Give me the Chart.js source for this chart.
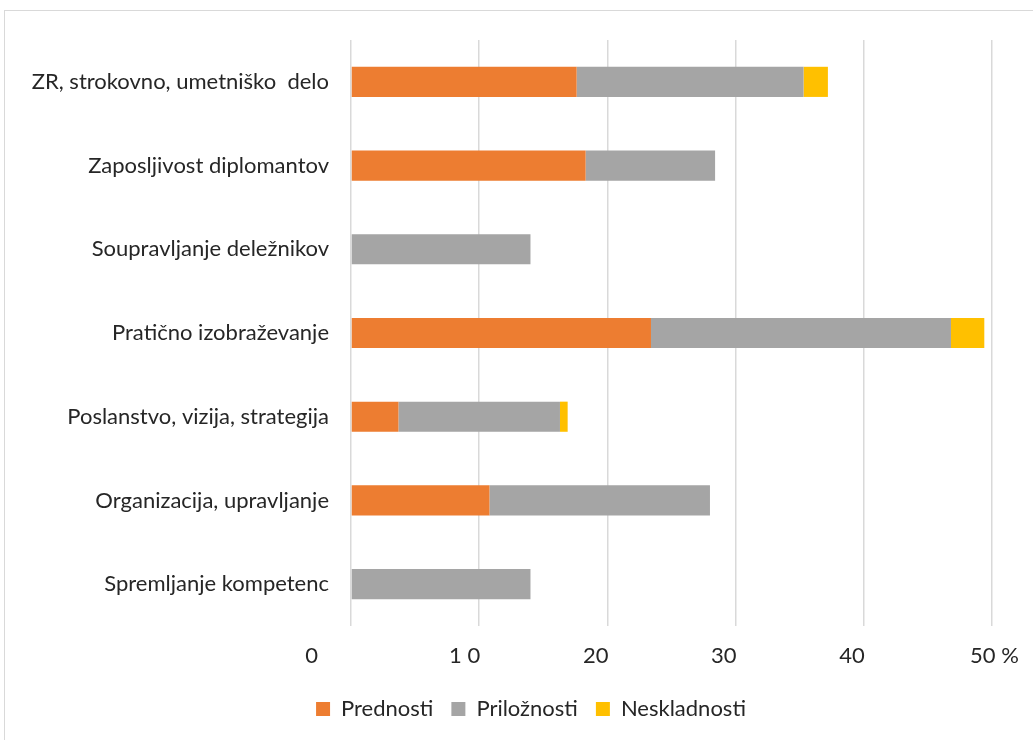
<!DOCTYPE html>
<html>
<head>
<meta charset="utf-8">
<script src="https://cdn.jsdelivr.net/npm/chart.js@4/dist/chart.umd.min.js"></script>
<style>
  html, body { margin: 0; padding: 0; background: #fff; }
  #wrap { position: relative; width: 1033px; height: 740px; overflow: hidden; }
  #frame { position: absolute; left: 4px; top: 10px; width: 1100px; height: 800px; border: 1px solid #d9d9d9; box-sizing: border-box; }
  canvas { position: absolute; left: 0; top: 0; }
</style>
</head>
<body>
<div id="wrap">
  <div id="frame"></div>
  <canvas id="c" width="1033" height="740"></canvas>
</div>
<script>
const categories = [
  'ZR, strokovno, umetniško  delo',
  'Zaposljivost diplomantov',
  'Soupravljanje deležnikov',
  'Pratično izobraževanje',
  'Poslanstvo, vizija, strategija',
  'Organizacija, upravljanje',
  'Spremljanje kompetenc'
];
const prednosti    = [17.6, 18.3, 0, 23.4, 3.7, 10.8, 0];
const priloznosti  = [17.7, 10.1, 14.0, 23.4, 12.6, 17.2, 14.0];
const neskladnosti = [1.9, 0, 0, 2.6, 0.6, 0, 0];
const seriesNames  = ['Prednosti', 'Priložnosti', 'Neskladnosti'];
const xTickValues  = [0, 10, 20, 30, 40, 50];
const xTickLabels  = ['0', '1 0', '20', '30', '40', '50 %'];

const FONT = 'Lato, "Open Sans", sans-serif';
const TEXT = '#262626';
const FS = 22;

const xLabelsPlugin = {
  id: 'xLabels',
  afterLayout(chart) {
    if (chart.legend) { chart.legend.left += 35; chart.legend.right += 35; }
  },
  afterDraw(chart) {
    const xs = chart.scales.x;
    const ctx = chart.ctx;
    ctx.save();
    ctx.font = FS + 'px ' + FONT;
    ctx.fillStyle = TEXT;
    ctx.textBaseline = 'middle';
    const y = chart.chartArea.bottom + 30;
    xTickValues.forEach((v, i) => {
      const px = xs.getPixelForValue(v);
      if (i === 0) { ctx.textAlign = 'right'; ctx.fillText(xTickLabels[i], px - 33, y); }
      else if (i === xTickValues.length - 1) { ctx.textAlign = 'left'; ctx.fillText(xTickLabels[i], px - 22, y); }
      else { ctx.textAlign = 'right'; ctx.fillText(xTickLabels[i], px + 1, y); }
    });
    ctx.restore();
  }
};

new Chart(document.getElementById('c'), {
  type: 'bar',
  data: {
    labels: categories,
    datasets: [
      { label: seriesNames[0], data: prednosti, backgroundColor: '#ED7D31' },
      { label: seriesNames[1], data: priloznosti, backgroundColor: '#A5A5A5' },
      { label: seriesNames[2], data: neskladnosti, backgroundColor: '#FFC000' }
    ]
  },
  options: {
    indexAxis: 'y',
    responsive: false,
    animation: false,
    devicePixelRatio: 1,
    layout: { padding: { top: 40, right: 41, bottom: 10, left: 0 } },
    datasets: { bar: { barPercentage: 0.36, categoryPercentage: 1 } },
    scales: {
      x: {
        stacked: true,
        min: 0, max: 50,
        afterFit(scale) { scale.height = 54; },
        ticks: { stepSize: 10, color: 'rgba(0,0,0,0)', font: { size: FS, family: FONT }, padding: 0 },
        grid: { color: '#d9d9d9', lineWidth: 1.5, drawTicks: false },
        border: { display: false }
      },
      y: {
        stacked: true,
        afterFit(scale) { scale.width = 351; },
        ticks: { color: TEXT, font: { size: FS, family: FONT }, padding: 22 },
        grid: { display: false, drawTicks: false },
        border: { display: false }
      }
    },
    plugins: {
      legend: {
        position: 'bottom',
        labels: { boxWidth: 14, boxHeight: 14, padding: 18, color: TEXT, font: { size: FS, family: FONT } }
      },
      tooltip: { enabled: false }
    }
  },
  plugins: [xLabelsPlugin]
});
</script>
</body>
</html>
